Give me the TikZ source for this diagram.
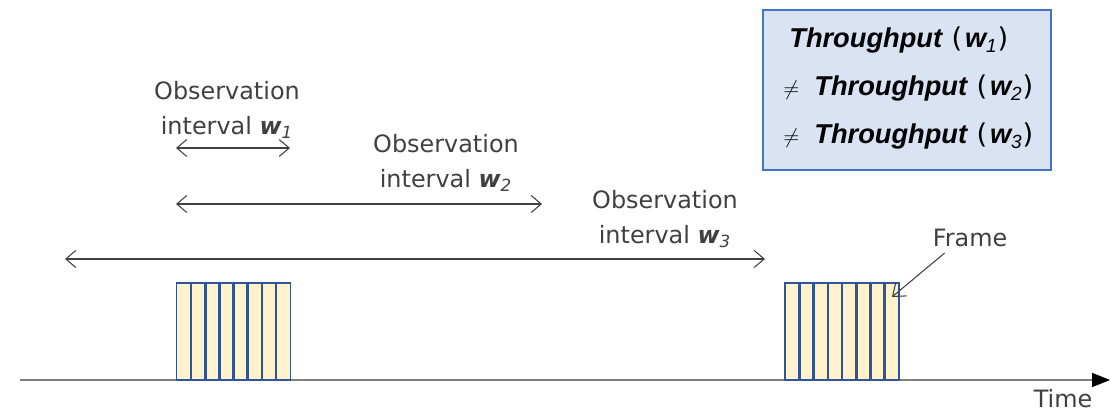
\documentclass[tikz,border=0pt]{standalone}
\usepackage{fontspec}
\setmainfont{DejaVu Sans}
\newfontfamily\boxfont{Liberation Sans}
\usetikzlibrary{arrows.meta}
\usetikzlibrary{positioning}
\definecolor{framefill}{HTML}{FFF2CC}
\definecolor{frameline}{HTML}{2F5597}
\definecolor{boxfill}{HTML}{DAE3F3}
\definecolor{boxline}{HTML}{4472C4}
\definecolor{axisgray}{HTML}{7F7F7F}
\definecolor{textgray}{HTML}{404040}
\tikzstyle{frame}=[fill=framefill, minimum width=0.2833cm, minimum height=1.92cm, inner sep=0pt, anchor=south west]
\tikzstyle{frame edge}=[draw=frameline, line width=1.1pt]
\tikzstyle{interval}=[draw=textgray, line width=0.6pt, {Straight Barb[length=2mm,width=3.4mm]}-{Straight Barb[length=2mm,width=3.4mm]}]
\tikzstyle{pointer}=[draw=textgray, line width=0.6pt, -{Straight Barb[length=2.2mm,width=3.4mm]}]
\tikzstyle{axis}=[draw=axisgray, line width=1pt, -{Triangle[length=3.6mm,width=2.8mm,color=black,fill=black]}]
\tikzstyle{obslabel}=[text=textgray, align=center, font=\fontsize{13.6}{19.8}\selectfont]
\tikzstyle{eqbox}=[draw=boxline, fill=boxfill, line width=1.1pt, minimum width=5.76cm, minimum height=3.2cm]
\tikzstyle{eqline}=[anchor=base west, font=\fontsize{15.5}{19}\selectfont, inner sep=0pt]
\newcommand{\wsub}[1]{{\bfseries\itshape w}\textsubscript{\itshape #1}}
\newcommand{\tput}[1]{{\boxfont\bfseries\itshape Throughput}\hspace{0.35em}(\hspace{0.1em}{\boxfont\bfseries\itshape w}\textsubscript{\boxfont\itshape #1})}
\newcommand{\noteq}{{\fontsize{12}{14}\selectfont$\neq$}\hspace{0.55em}}

\begin{document}
\begin{tikzpicture}
      \useasboundingbox (0,0) rectangle (22.4,8.24);
      % time axis
      \coordinate (t0) at (0.4,0.64);
      \coordinate (t1) at (22.2,0.64);
      \draw[axis] (t0) -- (t1);
      \node[text=textgray, inner sep=0pt, font=\fontsize{13.6}{16}\selectfont] (time) at (21.26,0.26) {Time};
      % two bursts of frames
      \foreach \i in {0,...,7} {
        \node[frame] (a\i) at (3.53+0.2833*\i,0.64) {};
        \node[frame] (b\i) at (15.7+0.2833*\i,0.64) {};
      }
      \foreach \i in {0,...,7} {
        \draw[frame edge] (a\i.south west) rectangle (a\i.north east);
        \draw[frame edge] (b\i.south west) rectangle (b\i.north east);
      }
      % observation intervals
      \coordinate (w1l) at (3.52,5.28);
      \coordinate (w1r) at (5.8,5.28);
      \coordinate (w2l) at (3.52,4.16);
      \coordinate (w2r) at (10.84,4.16);
      \coordinate (w3l) at (1.3,3.06);
      \coordinate (w3r) at (15.3,3.06);
      \draw[interval] (w1l) -- (w1r);
      \draw[interval] (w2l) -- (w2r);
      \draw[interval] (w3l) -- (w3r);
      \node[obslabel] (lw1) at (4.54,6.04) {Observation\\interval \wsub{1}};
      \node[obslabel] (lw2) at (8.92,4.98) {Observation\\interval \wsub{2}};
      \node[obslabel] (lw3) at (13.3,3.86) {Observation\\interval \wsub{3}};
      % frame pointer
      \node[text=textgray, font=\fontsize{13.6}{16}\selectfont] (flabel) at (19.4,3.48) {Frame};
      \coordinate (fpt) at (17.84,2.3);
      \draw[pointer] ([xshift=0.36cm]flabel.south west) -- (fpt);
      % throughput box
      \node[eqbox] (eq) at (18.14,6.44) {};
      \node[eqline] (q1) at (15.78,7.28) {\tput{1}};
      \node[eqline] (q2) at (15.66,6.32) {\noteq\tput{2}};
      \node[eqline] (q3) at (15.66,5.36) {\noteq\tput{3}};
\end{tikzpicture}
\end{document}
